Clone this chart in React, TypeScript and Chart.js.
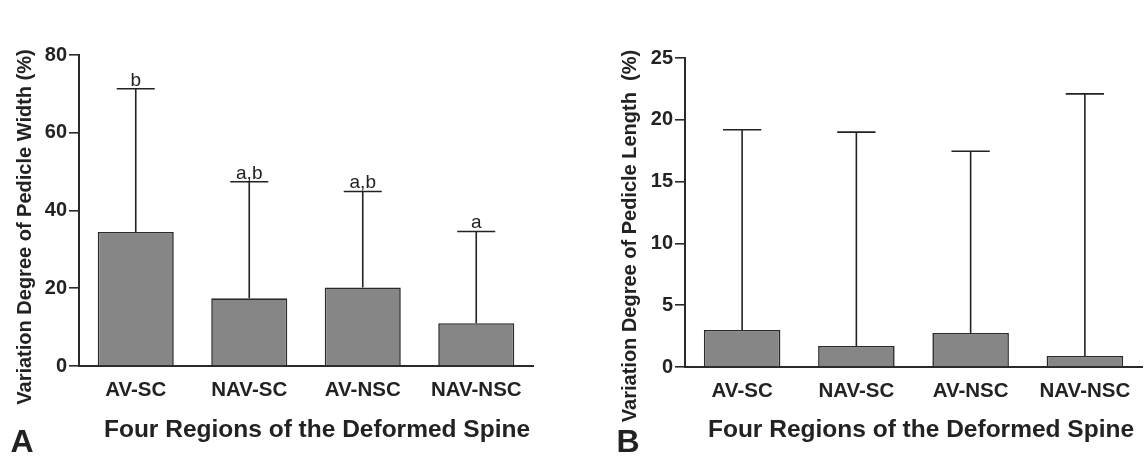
import React, { useEffect, useRef } from 'react';
import { Chart, registerables } from 'chart.js';
Chart.register(...registerables);

// ---- Data ----
const categories = ['AV-SC', 'NAV-SC', 'AV-NSC', 'NAV-NSC'];

const widthMeans = [34.5, 17.4, 20.2, 11.0];
const widthUpper = [71.3, 47.4, 44.9, 34.6];
const widthLetters = ['b', 'a,b', 'a,b', 'a'];
const widthTicks = [0, 20, 40, 60, 80];

const lengthMeans = [3.0, 1.7, 2.75, 0.9];
const lengthUpper = [19.2, 19.0, 17.45, 22.1];
const lengthLetters = ['', '', '', ''];
const lengthTicks = [0, 5, 10, 15, 20, 25];

const FONT = "'Liberation Sans', Arial, Helvetica, sans-serif";
const INK = '#222222';

type PanelProps = {
  means: number[];
  upper: number[];
  letters: string[];
  ticks: number[];
  yTitle: string;
  xTitle: string;
  panelLetter: string;
  area: { left: number; right: number; top: number; bottom: number };
  yTitleX: number;
  yTitleY: number;
  xTitleX: number;
  xTitleY: number;
  letterX: number;
  letterY: number;
};

const W = 573;
const H = 458;

function Panel(p: PanelProps) {
  const ref = useRef<HTMLCanvasElement | null>(null);
  useEffect(() => {
    if (!ref.current) return;
    const errorPlugin = {
      id: 'errbars',
      afterDatasetsDraw(chart: any) {
        const ctx = chart.ctx;
        const meta = chart.getDatasetMeta(0);
        const ys = chart.scales.y;
        ctx.save();
        ctx.strokeStyle = INK;
        ctx.lineWidth = 1.6;
        meta.data.forEach((bar: any, i: number) => {
          const x = bar.x;
          const top = ys.getPixelForValue(p.upper[i]);
          const half = bar.width / 4;
          ctx.beginPath();
          ctx.moveTo(x, bar.y);
          ctx.lineTo(x, top);
          ctx.moveTo(x - half, top);
          ctx.lineTo(x + half, top);
          ctx.stroke();
          const lab = p.letters[i];
          if (lab) {
            ctx.fillStyle = INK;
            ctx.font = `19px ${FONT}`;
            ctx.textAlign = 'center';
            ctx.textBaseline = 'alphabetic';
            ctx.fillText(lab, x, top - 3);
          }
        });
        ctx.restore();
      },
    };
    const textPlugin = {
      id: 'texts',
      afterDraw(chart: any) {
        const ctx = chart.ctx;
        ctx.save();
        ctx.fillStyle = INK;
        ctx.textAlign = 'center';
        ctx.textBaseline = 'middle';
        ctx.font = `bold 20px ${FONT}`;
        ctx.translate(p.yTitleX, p.yTitleY);
        ctx.rotate(-Math.PI / 2);
        ctx.fillText(p.yTitle, 0, 0);
        ctx.restore();
        ctx.save();
        ctx.fillStyle = INK;
        ctx.textAlign = 'center';
        ctx.textBaseline = 'middle';
        ctx.font = `bold 24.5px ${FONT}`;
        ctx.fillText(p.xTitle, p.xTitleX, p.xTitleY);
        ctx.font = `bold 32px ${FONT}`;
        ctx.fillText(p.panelLetter, p.letterX, p.letterY);
        ctx.restore();
      },
    };
    const yMax = p.ticks[p.ticks.length - 1];
    const step = p.ticks[1] - p.ticks[0];
    const chart = new Chart(ref.current, {
      type: 'bar',
      data: {
        labels: categories,
        datasets: [
          {
            data: p.means,
            backgroundColor: '#868686',
            borderColor: '#2a2a2a',
            borderWidth: 1.6,
            borderSkipped: 'bottom',
            categoryPercentage: 1,
            barPercentage: 0.67,
          },
        ],
      },
      options: {
        responsive: false,
        animation: false,
        devicePixelRatio: 1,
        layout: {
          padding: { left: 0, top: p.area.top, right: W - p.area.right, bottom: 0 },
        },
        plugins: { legend: { display: false }, tooltip: { enabled: false }, title: { display: false } },
        scales: {
          x: {
            offset: true,
            grid: { display: false, drawTicks: false },
            border: { display: true, color: '#2a2a2a', width: 2 },
            ticks: { color: INK, font: { family: FONT, size: 20.5, weight: 'bold' }, padding: 12, maxRotation: 0, autoSkip: false },
            afterFit: (s: any) => { s.height = H - p.area.bottom; },
          },
          y: {
            min: 0,
            max: yMax,
            ticks: { stepSize: step, color: INK, font: { family: FONT, size: 20, weight: 'bold' }, padding: 2 },
            grid: { drawOnChartArea: false, drawTicks: true, tickLength: 10, color: '#2a2a2a', lineWidth: 1.6 },
            border: { display: true, color: '#2a2a2a', width: 2 },
            afterFit: (s: any) => { s.width = p.area.left; },
          },
        },
      },
      plugins: [errorPlugin, textPlugin],
    } as any);
    return () => chart.destroy();
  }, []);
  return <canvas ref={ref} width={W} height={H} style={{ display: 'block', width: W, height: H }} />;
}

export default function App() {
  return (
    <div style={{ position: 'absolute', left: 0, top: 0, width: 1146, height: 458, background: '#fff', display: 'flex' }}>
      <Panel
        means={widthMeans}
        upper={widthUpper}
        letters={widthLetters}
        ticks={widthTicks}
        yTitle="Variation Degree of Pedicle Width (%)"
        xTitle="Four Regions of the Deformed Spine"
        panelLetter="A"
        area={{ left: 79, right: 533, top: 55, bottom: 366 }}
        yTitleX={25}
        yTitleY={227}
        xTitleX={317}
        xTitleY={430}
        letterX={22}
        letterY={443}
      />
      <Panel
        means={lengthMeans}
        upper={lengthUpper}
        letters={lengthLetters}
        ticks={lengthTicks}
        yTitle="Variation Degree of Pedicle Length  (%)"
        xTitle="Four Regions of the Deformed Spine"
        panelLetter="B"
        area={{ left: 112, right: 569, top: 58, bottom: 367 }}
        yTitleX={57}
        yTitleY={236}
        xTitleX={348}
        xTitleY={430}
        letterX={55}
        letterY={443}
      />
    </div>
  );
}
